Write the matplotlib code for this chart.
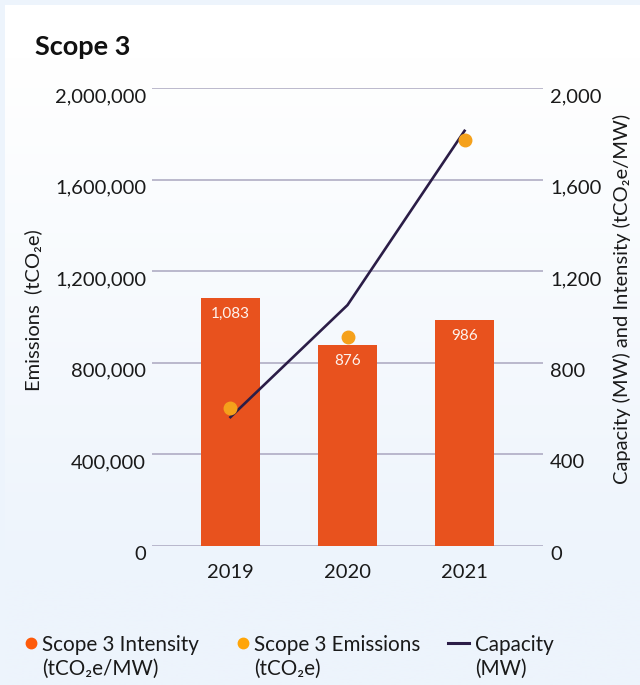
import matplotlib.pyplot as plt
import numpy as np
from matplotlib.colors import LinearSegmentedColormap
from matplotlib.lines import Line2D

# fonts ------------------------------------------------------------------------
plt.rcParams['font.family'] = ['Lato', 'DejaVu Sans']
plt.rcParams['font.size'] = 14

# data -------------------------------------------------------------------------
years = ['2019', '2020', '2021']
intensity = [1083, 876, 986]                 # tCO2e/MW (bars, right axis)
emissions = [600000, 912000, 1775000]        # tCO2e (dots, left axis)
capacity = [562, 1052, 1814]                 # MW (line, right axis)
left_ticks = [0, 400000, 800000, 1200000, 1600000, 2000000]
right_ticks = [0, 400, 800, 1200, 1600, 2000]

bar_col = '#e8521e'
dot_col = '#f5a11b'
line_col = '#2b1d47'
grid_col = '#aaa6bf'
outer_bg = '#edf4fc'

W, H = 640, 685
fig = plt.figure(figsize=(W / 100, H / 100), dpi=100)
fig.patch.set_facecolor(outer_bg)

# background panel: white fading into light blue ----------------------------
bg = fig.add_axes([0, 0, 1, 1], zorder=-5)
bg.set_xlim(0, W)
bg.set_ylim(H, 0)
bg.axis('off')
grad = np.clip(np.linspace(-0.1, 1.2, 300), 0, 1).reshape(-1, 1)
cm = LinearSegmentedColormap.from_list('panel', ['#ffffff', outer_bg])
bg.imshow(grad, cmap=cm, aspect='auto', extent=[5, W, H, 5], vmin=0, vmax=1)

# main axes --------------------------------------------------------------------
x0, x1, ytop, ybot = 151.7, 543.3, 88.3, 545.6
ax = fig.add_axes([x0 / W, 1 - ybot / H, (x1 - x0) / W, (ybot - ytop) / H])
ax2 = ax.twinx()
ax.set_zorder(ax2.get_zorder() + 1)
ax.patch.set_visible(False)
ax2.patch.set_visible(False)

x = np.arange(len(years))
bars = ax2.bar(x, intensity, width=0.5, color=bar_col, zorder=2)
ax2.plot(x, capacity, color=line_col, linewidth=1.9, zorder=3)
ax.plot(x, emissions, 'o', color=dot_col, markersize=9, zorder=4)

for xi, v in zip(x, intensity):
    ax2.annotate(f'{v:,}', (xi, v), xytext=(0, -11.5), textcoords='offset points',
                 ha='center', va='center', color='#fdf3ee', fontsize=11, zorder=5)

ax.set_xlim(-0.673, 2.673)
ax.set_ylim(0, 2000000)
ax2.set_ylim(0, 2000)
ax.set_yticks(left_ticks)
ax.set_yticklabels([f'{t:,}' for t in left_ticks])
ax2.set_yticks(right_ticks)
ax2.set_yticklabels([f'{t:,}' for t in right_ticks])
ax.set_xticks(x)
ax.set_xticklabels(years)

ax2.set_axisbelow(True)
ax2.yaxis.grid(True, color=grid_col, linewidth=1.1)
for a in (ax, ax2):
    for s in a.spines.values():
        s.set_visible(False)
ax.tick_params(axis='y', length=0, pad=4, labelsize=14.5, colors='#1a1a1a')
ax2.tick_params(axis='y', length=0, pad=5, labelsize=14.5, colors='#1a1a1a')
ax.tick_params(axis='x', length=0, pad=13, labelsize=14.5, colors='#1a1a1a')
for lab in ax.get_yticklabels() + ax2.get_yticklabels():
    lab.set_va('top')

# titles / axis labels ---------------------------------------------------------
fig.text(35 / W, 1 - 47 / H, 'Scope 3', fontsize=19.5, fontweight='bold',
         ha='left', va='center', color='#111111')
fig.text(33 / W, 1 - 310 / H, 'Emissions  (tCO₂e)', rotation=90,
         ha='center', va='center', fontsize=14.5, color='#1a1a1a')
fig.text(622 / W, 1 - 299 / H, 'Capacity (MW) and Intensity (tCO₂e/MW)', rotation=90,
         ha='center', va='center', fontsize=14.5, color='#1a1a1a')

# legend -----------------------------------------------------------------------
ly = 1 - 643 / H
fig.add_artist(Line2D([30.7 / W], [ly], marker='o', color='#fe5a0a', markersize=7.5,
                      linestyle='none', transform=fig.transFigure))
fig.add_artist(Line2D([243 / W], [ly], marker='o', color='#ffa508', markersize=7.5,
                      linestyle='none', transform=fig.transFigure))
fig.add_artist(Line2D([448 / W, 469 / W], [ly, ly], color=line_col, linewidth=2.2,
                      transform=fig.transFigure))
leg_labels = ['Scope 3 Intensity\n(tCO₂e/MW)', 'Scope 3 Emissions\n(tCO₂e)', 'Capacity\n(MW)']
leg_x = [42, 254, 475]
for lx, lab in zip(leg_x, leg_labels):
    fig.text(lx / W, 1 - 635 / H, lab, ha='left', va='top', fontsize=14.9,
             linespacing=1.25, color='#1a1a1a')

fig.savefig('out.png', dpi=100, facecolor=fig.get_facecolor())
